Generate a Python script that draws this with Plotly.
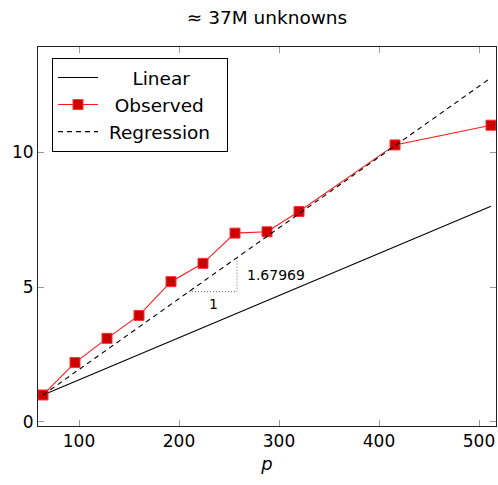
import plotly.graph_objects as go

# ---- data ----
p_obs = [64, 96, 128, 160, 192, 224, 256, 288, 320, 416, 512]
speedup_obs = [1.0, 2.2, 3.1, 3.95, 5.2, 5.88, 7.0, 7.05, 7.8, 10.27, 11.0]

linear_x = [64, 512]
linear_y = [1.0, 8.0]

reg_x = [64, 512]
reg_y = [1.0, 12.76]
reg_slope_label = "1.67969"

tri_x = [210, 258]
tri_y = [4.83, 6.09]

x_ticks = [100, 200, 300, 400, 500]
y_ticks = [0, 5, 10]

title_text = "≈ 37M unknowns"
FONT = "DejaVu Sans"
NB = "\u00a0"

fig = go.Figure()

fig.add_trace(go.Scatter(
    x=linear_x, y=linear_y, mode="lines", name=NB * 5 + "Linear",
    line=dict(color="black", width=1.1),
))
fig.add_trace(go.Scatter(
    x=p_obs, y=speedup_obs, mode="lines+markers", name=NB * 2 + "Observed",
    line=dict(color="#ff1a1a", width=1.1),
    marker=dict(symbol="square", size=10, color="#cc0000",
                line=dict(color="#ff3030", width=1)),
))
fig.add_trace(go.Scatter(
    x=reg_x, y=reg_y, mode="lines", name=NB + "Regression" + NB * 2,
    line=dict(color="black", width=1.1, dash="5px,4px"),
))

# slope triangle
fig.add_trace(go.Scatter(
    x=[tri_x[0], tri_x[1], tri_x[1]], y=[tri_y[0], tri_y[0], tri_y[1]],
    mode="lines", showlegend=False, hoverinfo="skip",
    line=dict(color="#666666", width=1, dash="1px,2px"),
))
fig.add_annotation(
    x=(tri_x[0] + tri_x[1]) / 2, y=tri_y[0], text="1", showarrow=False,
    yanchor="top", yshift=-2, font=dict(family=FONT, size=14, color="black"),
)
fig.add_annotation(
    x=tri_x[1], y=(tri_y[0] + tri_y[1]) / 2, text=reg_slope_label, showarrow=False,
    xanchor="left", xshift=8, font=dict(family=FONT, size=14, color="black"),
)

axis_common = dict(
    showgrid=False, zeroline=False, showline=True, linecolor="#222222",
    linewidth=1, mirror="allticks", ticks="inside", ticklen=6,
    tickcolor="#999999", tickwidth=1,
    tickfont=dict(family=FONT, size=17, color="black"),
)

fig.update_layout(
    width=498, height=485,
    margin=dict(l=38, r=2, t=47, b=59),
    paper_bgcolor="white", plot_bgcolor="white",
    font=dict(family=FONT, color="black"),
    title=dict(text=title_text, x=0.5, xref="paper", xanchor="center",
               y=1 - 18 / 485, yref="container", yanchor="middle",
               font=dict(family=FONT, size=18.5, color="black")),
    xaxis=dict(range=[59, 517], tickvals=x_ticks,
               title=dict(text="<i>p</i>", standoff=6,
                          font=dict(family=FONT, size=18, color="black")),
               **axis_common),
    yaxis=dict(range=[-0.15, 13.9], tickvals=y_ticks, **axis_common),
    legend=dict(x=0.0306, y=0.971, xanchor="left", yanchor="top",
                bordercolor="black", borderwidth=1, bgcolor="white",
                font=dict(family=FONT, size=18.5, color="black"),
                itemwidth=40),
    showlegend=True,
)

fig.write_html("out.html", config={"displayModeBar": False},
               post_script="document.body.style.margin='0';document.body.style.padding='0';")
